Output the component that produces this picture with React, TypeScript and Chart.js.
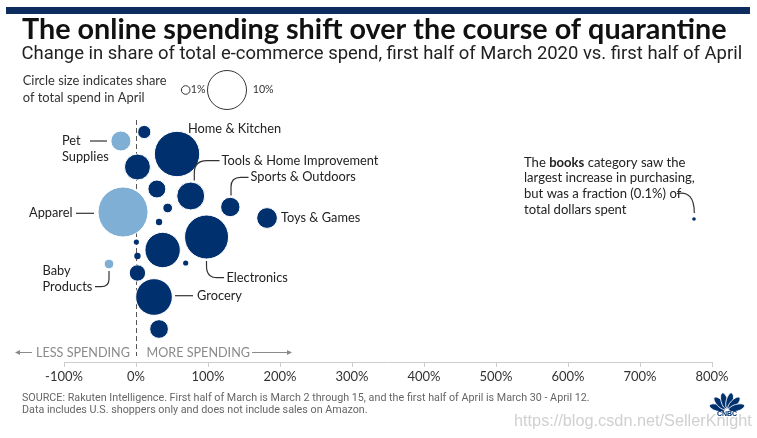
import React, { useEffect, useRef } from 'react';
import { Chart, registerables } from 'chart.js';

Chart.register(...registerables);

// ---------- data ----------
const categories = [
  'Pet Supplies', '', 'Home & Kitchen', '', '', 'Tools & Home Improvement', 'Sports & Outdoors',
  'Apparel', '', '', 'Toys & Games', 'Electronics', '', '', '', '', 'Baby Products', '', 'Grocery', '', 'Books',
];
// change in share of total e-commerce spend (%)
const changePct = [-21, 11.5, 57, 2, 29, 76, 131, -18, 44, 32, 182, 98, 0.5, 37, 2, 69, -37.5, 2, 25, 32, 775];
// share of total spend in April (%)
const aprilShare = [3.0, 1.3, 15.3, 5.0, 2.4, 5.8, 2.8, 18.6, 0.7, 0.3, 3.2, 14.4, 0.2, 9.3, 0.3, 0.2, 0.7, 2.0, 10.0, 2.6, 0.1];
// vertical position in the beeswarm (rows from top)
const swarmRow = [31, 22, 44, 57, 79, 86, 97, 102, 98, 112, 108, 127, 132, 140, 146, 153, 154, 163, 187, 219, 109];

const xTicksMin = -100;
const xTicksMax = 800;
const xTickStep = 100;

const TITLE = 'The online spending shift over the course of quarantine';
const SUBTITLE = 'Change in share of total e-commerce spend, first half of March 2020 vs. first half of April';
const SOURCE1 = 'SOURCE: Rakuten Intelligence. First half of March is March 2 through 15, and the first half of April is March 30 - April 12.';
const SOURCE2 = 'Data includes U.S. shoppers only and does not include sales on Amazon.';
const WATERMARK = 'https://blog.csdn.net/SellerKnight';

const DARK = '#00306d';
const LIGHT = '#80afd5';
const BAR = '#0c2d5e';

const radiusFor = (share: number) => 5.8 * Math.sqrt(share);

function fitSize(ctx: CanvasRenderingContext2D, text: string, weight: string, family: string, width: number) {
  ctx.font = `${weight} 100px ${family}`;
  const w = ctx.measureText(text).width;
  return (100 * width) / w;
}

const decor = {
  id: 'decor',
  beforeDatasetsDraw(chart: any) {
    const { ctx, scales } = chart;
    const px = Math.round(scales.x.getPixelForValue(0)) + 0.5;
    ctx.save();
    ctx.strokeStyle = '#555';
    ctx.lineWidth = 1;
    ctx.setLineDash([5, 3]);
    ctx.beginPath();
    ctx.moveTo(px, 120);
    ctx.lineTo(px, 356);
    ctx.stroke();
    ctx.restore();
  },
  afterDraw(chart: any) {
    const ctx: CanvasRenderingContext2D = chart.ctx;
    ctx.save();
    // top bar
    ctx.fillStyle = BAR;
    ctx.fillRect(6, 7, 744, 7);

    // title
    ctx.textBaseline = 'alphabetic';
    ctx.textAlign = 'left';
    const ts = fitSize(ctx, TITLE, '700', 'Lato', 705);
    ctx.font = `700 ${ts}px Lato`;
    ctx.fillStyle = '#111';
    ctx.fillText(TITLE, 22, 38.5);
    const ss = fitSize(ctx, SUBTITLE, '400', 'Roboto', 721);
    ctx.font = `400 ${ss}px Roboto`;
    ctx.fillStyle = '#222';
    ctx.fillText(SUBTITLE, 21.5, 58.5);

    // size legend
    ctx.textBaseline = 'middle';
    const gs = fitSize(ctx, 'Circle size indicates share', '400', 'Lato', 144);
    ctx.font = `400 ${gs}px Lato`;
    ctx.fillStyle = '#333';
    ctx.fillText('Circle size indicates share', 22.7, 81);
    ctx.fillText('of total spend in April', 22.7, 97.5);
    ctx.strokeStyle = '#333';
    ctx.lineWidth = 1;
    ctx.beginPath();
    ctx.arc(185.7, 90, 4.3, 0, Math.PI * 2);
    ctx.stroke();
    ctx.beginPath();
    ctx.arc(227, 90, 19.5, 0, Math.PI * 2);
    ctx.stroke();
    const ps = fitSize(ctx, '10%', '400', 'Lato', 21);
    ctx.font = `400 ${ps}px Lato`;
    ctx.fillText('1%', 190.7, 90);
    ctx.fillText('10%', 252.7, 90);

    // annotation labels
    const as = fitSize(ctx, 'Tools & Home Improvement', '400', 'Lato', 157);
    ctx.font = `400 ${as}px Lato`;
    ctx.fillStyle = '#222';
    ctx.fillText('Pet', 62, 141);
    ctx.fillText('Supplies', 62, 156.5);
    ctx.fillText('Home & Kitchen', 188, 128.5);
    ctx.fillText('Tools & Home Improvement', 221.5, 160.7);
    ctx.fillText('Sports & Outdoors', 250.5, 177.3);
    ctx.fillText('Toys & Games', 281, 217.7);
    ctx.fillText('Apparel', 29, 213.3);
    ctx.fillText('Electronics', 226.5, 277.7);
    ctx.fillText('Baby', 42.5, 271);
    ctx.fillText('Products', 42.5, 286.7);
    ctx.fillText('Grocery', 197, 295.7);

    // connectors
    ctx.strokeStyle = '#333';
    ctx.lineWidth = 1.2;
    const line = (pts: number[][]) => {
      ctx.beginPath();
      ctx.moveTo(pts[0][0], pts[0][1]);
      for (let i = 1; i < pts.length; i++) ctx.lineTo(pts[i][0], pts[i][1]);
      ctx.stroke();
    };
    line([[90, 141], [107, 141]]);
    line([[76, 213.3], [94, 213.3]]);
    line([[175, 295.7], [193, 295.7]]);
    // tools
    ctx.beginPath();
    ctx.moveTo(219.5, 160.7);
    ctx.lineTo(207, 160.7);
    ctx.quadraticCurveTo(194.3, 160.7, 194.3, 173);
    ctx.lineTo(194.3, 180.5);
    ctx.stroke();
    // sports
    ctx.beginPath();
    ctx.moveTo(248.5, 177.3);
    ctx.lineTo(240.5, 177.3);
    ctx.quadraticCurveTo(231, 177.3, 231, 187);
    ctx.lineTo(231, 195.5);
    ctx.stroke();
    // electronics
    ctx.beginPath();
    ctx.moveTo(206.5, 261);
    ctx.lineTo(206.5, 266);
    ctx.quadraticCurveTo(206.5, 277.7, 217, 277.7);
    ctx.lineTo(224, 277.7);
    ctx.stroke();
    // baby
    ctx.beginPath();
    ctx.moveTo(95, 286.7);
    ctx.lineTo(101, 286.7);
    ctx.quadraticCurveTo(109, 286.7, 109, 279);
    ctx.lineTo(109, 271);
    ctx.stroke();
    // books
    ctx.beginPath();
    ctx.moveTo(677, 193.5);
    ctx.quadraticCurveTo(694.3, 190, 694.3, 213);
    ctx.stroke();

    // books note
    const bs = fitSize(ctx, 'largest increase in purchasing,', '400', 'Lato', 171);
    ctx.font = `400 ${bs}px Lato`;
    ctx.fillStyle = '#222';
    let bx = 524;
    ctx.fillText('The ', bx, 162.3);
    bx += ctx.measureText('The ').width;
    ctx.font = `700 ${bs}px Lato`;
    ctx.fillText('books', bx, 162.3);
    bx += ctx.measureText('books').width;
    ctx.font = `400 ${bs}px Lato`;
    ctx.fillText(' category saw the', bx, 162.3);
    ctx.fillText('largest increase in purchasing,', 524, 177.5);
    ctx.fillText('but was a fraction (0.1%) of', 524, 193.3);
    ctx.fillText('total dollars spent', 524, 209.3);

    // less / more spending
    const ls = fitSize(ctx, 'LESS SPENDING', '400', 'Lato', 94);
    ctx.font = `400 ${ls}px Lato`;
    ctx.fillStyle = '#8a8a8a';
    ctx.fillText('LESS SPENDING', 36, 352.5);
    ctx.fillText('MORE SPENDING', 146.5, 352.5);
    ctx.strokeStyle = '#8a8a8a';
    ctx.fillStyle = '#8a8a8a';
    ctx.lineWidth = 1;
    line([[17, 352.5], [32, 352.5]]);
    ctx.beginPath();
    ctx.moveTo(15, 352.5); ctx.lineTo(20, 350); ctx.lineTo(20, 355); ctx.closePath(); ctx.fill();
    line([[252, 352.5], [289, 352.5]]);
    ctx.beginPath();
    ctx.moveTo(292, 352.5); ctx.lineTo(287, 350); ctx.lineTo(287, 355); ctx.closePath(); ctx.fill();

    // source
    const fs = fitSize(ctx, SOURCE1, '400', 'Roboto', 568);
    ctx.font = `400 ${fs}px Roboto`;
    ctx.fillStyle = '#666';
    ctx.fillText(SOURCE1, 22, 398.3);
    ctx.fillText(SOURCE2, 22, 410.5);

    // watermark
    const ws = fitSize(ctx, WATERMARK, '400', '"Liberation Sans Narrow", "Liberation Sans"', 238);
    ctx.font = `400 ${ws}px "Liberation Sans Narrow", "Liberation Sans"`;
    ctx.fillStyle = 'rgba(200,200,200,0.85)';
    ctx.fillText(WATERMARK, 514, 421.5);

    // CNBC peacock
    const cx = 727, cy = 410.5;
    ctx.fillStyle = DARK;
    ctx.strokeStyle = '#fff';
    ctx.lineWidth = 0.8;
    [-74, -44, -15, 15, 44, 74].forEach((a) => {
      ctx.save();
      ctx.translate(cx, cy);
      ctx.rotate((a * Math.PI) / 180);
      ctx.beginPath();
      ctx.ellipse(0, -10, 3.4, 8.2, 0, 0, Math.PI * 2);
      ctx.fill();
      ctx.stroke();
      ctx.restore();
    });
    ctx.font = 'bold 7px "Liberation Sans"';
    ctx.fillStyle = DARK;
    ctx.textAlign = 'center';
    ctx.fillText('CNBC', cx, 414.5);
    ctx.restore();
  },
};

export default function App() {
  const ref = useRef<HTMLCanvasElement>(null);
  useEffect(() => {
    const points = changePct.map((v, i) => ({ x: v, y: swarmRow[i], r: radiusFor(aprilShare[i]) }));
    const chart = new Chart(ref.current as HTMLCanvasElement, {
      type: 'bubble',
      data: {
        labels: categories,
        datasets: [
          {
            label: 'Categories',
            data: points,
            backgroundColor: (c: any) => (changePct[c.dataIndex] < 0 ? LIGHT : DARK),
            borderColor: '#ffffff',
            borderWidth: (c: any) => (aprilShare[c.dataIndex] < 0.5 ? 0 : 1),
          },
        ],
      },
      options: {
        responsive: false,
        animation: false,
        devicePixelRatio: 1,
        events: [],
        layout: { padding: { left: 64, right: 45, top: 110, bottom: 0 } },
        plugins: { legend: { display: false }, tooltip: { enabled: false }, title: { display: false } },
        scales: {
          x: {
            type: 'linear',
            min: xTicksMin,
            max: xTicksMax,
            afterFit: (s: any) => { s.height = 76; },
            grid: { drawOnChartArea: false, drawTicks: true, tickLength: 5, color: '#cccccc', lineWidth: 1 },
            border: { display: true, color: '#cccccc', width: 1 },
            ticks: {
              stepSize: xTickStep,
              padding: 2.5,
              color: '#333',
              font: { family: 'Lato', size: 13 },
              callback: (v: any) => `${v}%`,
            },
          },
          y: { type: 'linear', display: false, min: 0, max: 252, reverse: true },
        },
      },
      plugins: [decor],
    } as any);
    let alive = true;
    const fonts = ['700 20px Lato', '400 20px Lato', '400 20px Roboto', '400 20px "Liberation Sans"'];
    Promise.all(fonts.map((f) => (document as any).fonts.load(f))).then(() => { if (alive) chart.update(); }).catch(() => {});
    return () => { alive = false; chart.destroy(); };
  }, []);
  return (
    <div style={{ position: 'fixed', left: 0, top: 0, width: 757, height: 438, background: '#fff' }}>
      <canvas ref={ref} width={757} height={438} style={{ display: 'block', width: 757, height: 438 }} />
    </div>
  );
}
